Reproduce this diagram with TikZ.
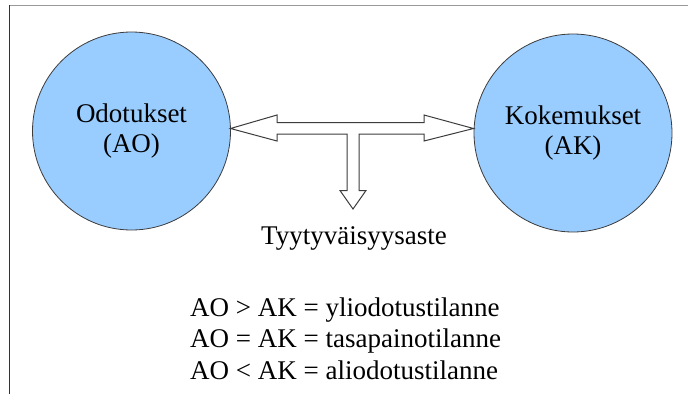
\documentclass[tikz,border=0pt]{standalone}
\usepackage{fontspec}
\setmainfont{Liberation Serif}
\definecolor{bubble}{RGB}{153,204,255}
\definecolor{edge}{RGB}{60,60,60}
\begin{document}
\begin{tikzpicture}[x=1pt,y=-1pt,
  bubblestyle/.style={circle,draw=edge,line width=0.8pt,fill=bubble,minimum size=198pt,inner sep=0pt,
     align=center,font=\fontsize{27}{30}\selectfont},
  arrowshape/.style={draw=edge,fill=white,line width=1pt,line join=miter},
  txt/.style={inner sep=0pt,font=\fontsize{27}{30}\selectfont}]
\useasboundingbox (0,0) rectangle (688,394);
% frame lines
\draw[color=gray!80,line width=1pt] (9.3,5) -- (688,5);
\draw[color=black!80,line width=1.4pt] (9.3,5) -- (9.3,394);
% circles
\node[bubblestyle] (L) at (131.5,131) {Odotukset\\(AO)};
\node[bubblestyle] (R) at (573,133) {Kokemukset\\(AK)};
% double arrow with down branch
\coordinate (lt) at (230.5,128.5);
\coordinate (rt) at (473.5,128.5);
\coordinate (dt) at (353,209);
\draw[arrowshape] (lt) -- (277,115) -- (277,122.5) -- (424,122.5) -- (424,115) -- (rt)
  -- (424,141) -- (424,134) -- (359,134) -- (359,190.5) -- (366,190.5) -- (dt)
  -- (340,190.5) -- (347,190.5) -- (347,134) -- (277,134) -- (277,141) -- cycle;
% labels
\node[txt,anchor=base] (T) at (354,244) {Tyytyväisyysaste};
\node[txt,anchor=base west] (e1) at (190,316) {AO > AK = yliodotustilanne};
\node[txt,anchor=base west] (e2) at (190,347.5) {AO = AK = tasapainotilanne};
\node[txt,anchor=base west] (e3) at (190,379) {AO < AK = aliodotustilanne};
\end{tikzpicture}
\end{document}
